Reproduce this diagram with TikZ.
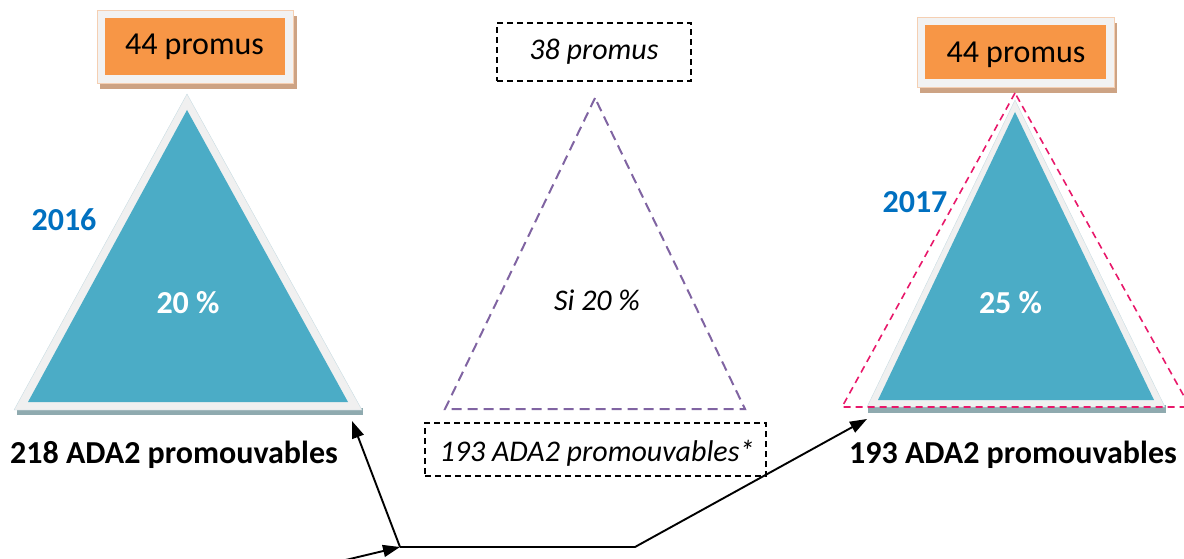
\documentclass[tikz,border=0pt]{standalone}
\usepackage{fontspec}
\setmainfont{Carlito}
\usetikzlibrary{arrows.meta,positioning}
\definecolor{promorange}{HTML}{F79646}
\definecolor{boxshadow}{HTML}{CDA384}
\definecolor{boxframe}{HTML}{F2F2F2}
\definecolor{boxedge}{HTML}{F5CFB2}
\definecolor{pyrteal}{HTML}{4BACC6}
\definecolor{pyrframe}{HTML}{F0F0F0}
\definecolor{pyredge}{HTML}{C9DDE3}
\definecolor{pyrshadow}{HTML}{8FAAAF}
\definecolor{yearblue}{HTML}{0070C0}
\definecolor{simpurple}{HTML}{8064A2}
\definecolor{simpink}{HTML}{E8186A}

\begin{document}
\begin{tikzpicture}[x=1pt,y=-1pt,
    every node/.style={inner sep=0pt},
    orangebox/.style={fill=promorange,minimum width=180pt,minimum height=57pt},
    bigtext/.style={font=\fontsize{32}{37}\selectfont},
    boldtext/.style={font=\fontsize{32}{37}\selectfont\bfseries},
    simtext/.style={font=\fontsize{30}{35}\selectfont\itshape},
    yeartext/.style={boldtext,text=yearblue},
    pcttext/.style={boldtext,text=white},
    simbox/.style={draw=black,line width=1.5pt,dash pattern=on 6pt off 4pt},
    purpdash/.style={draw=simpurple,line width=2pt,dash pattern=on 10pt off 6pt},
    pinkdash/.style={draw=simpink,line width=1.6pt,dash pattern=on 7pt off 5pt},
    conn/.style={line width=1.9pt,-{Triangle[length=17pt,width=12pt]}}]
    \useasboundingbox (0,0) rectangle (1184,559);
    % 2016 box and pyramid
    \fill[boxshadow] (100,16) rectangle (297,89);
    \filldraw[fill=boxframe,draw=boxedge] (97,10) rectangle (293,83);
    \node[orangebox] (box16) at (195,46.5) {};
    \node[bigtext,anchor=base] (promus16) at (194.5,55) {44 promus};
    \fill[pyrshadow] (17,408) rectangle (363,415);
    \filldraw[fill=pyrframe,draw=pyredge] (187,94) -- (14,410) -- (362,410) -- cycle;
    \fill[pyrteal] (187,110) -- (28,402) -- (348,402) -- cycle;
    \node[yeartext,anchor=base] (year16) at (64,230) {2016};
    \node[pcttext,anchor=base] (pct16) at (188,313) {20 \%};
    \node[boldtext,anchor=base] (base16) at (174,463) {218 ADA2 promouvables};
    % simulation
    \node[simbox,minimum width=194pt,minimum height=58pt] (box38) at (594,52) {};
    \node[simtext,anchor=base] (promus38) at (594,60) {38 promus};
    \draw[purpdash] (595,98) -- (445,409) -- (745,409) -- cycle;
    \node[simtext,anchor=base] (pctsim) at (597,310) {Si 20 \%};
    \node[simbox,minimum width=341pt,minimum height=53pt] (box193) at (595.5,449.5) {};
    \node[simtext,anchor=base] (basesim) at (597,461) {193 ADA2 promouvables*};
    % 2017 box and pyramid
    \fill[boxshadow] (920,23) rectangle (1117,93);
    \filldraw[fill=boxframe,draw=boxedge] (917,17) rectangle (1114,87);
    \node[orangebox,minimum width=181pt,minimum height=54pt] (box17) at (1015.5,52) {};
    \node[bigtext,anchor=base] (promus17) at (1016,63) {44 promus};
    \fill[pyrshadow] (868,405) rectangle (1166,413);
    \filldraw[fill=pyrframe,draw=pyredge] (1015,100) -- (867,407) -- (1165,407) -- cycle;
    \fill[pyrteal] (1015,112) -- (878,400) -- (1154,400) -- cycle;
    \draw[pinkdash] (1015,93) -- (842,407) -- (1190,407) -- cycle;
    \node[yeartext,anchor=base] (year17) at (915,212) {2017};
    \node[pcttext,anchor=base] (pct17) at (1010.5,313) {25 \%};
    \node[boldtext,anchor=base] (base17) at (1013,463) {193 ADA2 promouvables};
    % connectors
    \coordinate (src) at (333,563);
    \coordinate (hub) at (400,547);
    \coordinate (bend) at (635,547);
    \coordinate (tip16) at (352,421);
    \coordinate (tip17) at (867,419);
    \draw[conn] (src) -- (hub);
    \draw[conn] (hub) -- (tip16);
    \draw[conn] (hub) -- (bend) -- (tip17);
\end{tikzpicture}
\end{document}
